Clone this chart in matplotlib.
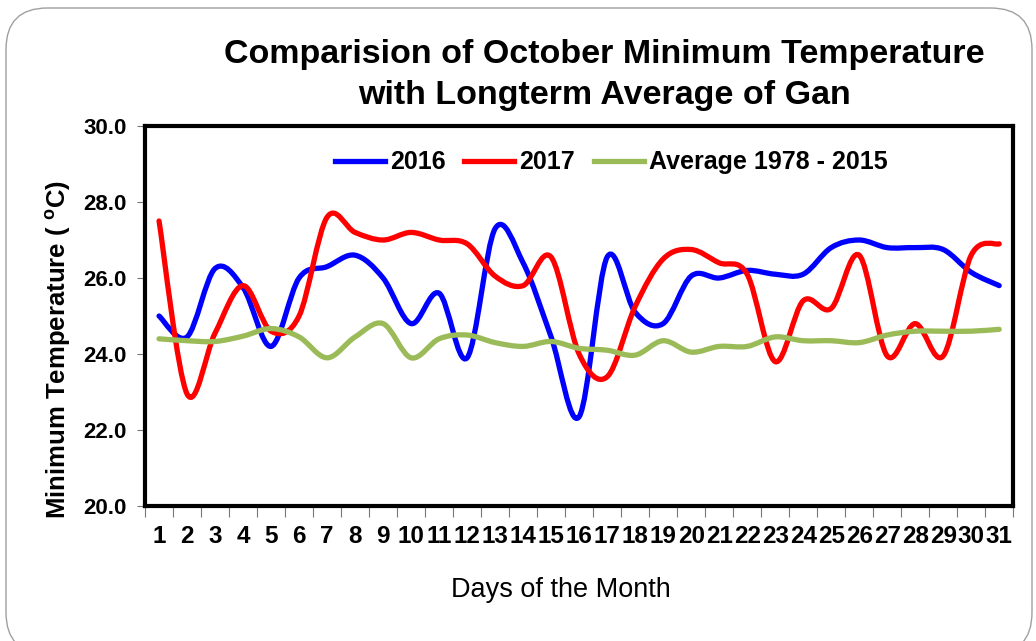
import numpy as np
import matplotlib
matplotlib.use('Agg')
import matplotlib.pyplot as plt
from matplotlib.path import Path
from matplotlib.patches import PathPatch, FancyBboxPatch
from matplotlib.lines import Line2D

plt.rcParams['font.family'] = ['Liberation Sans', 'DejaVu Sans']
plt.rcParams['mathtext.fontset'] = 'custom'
plt.rcParams['mathtext.rm'] = 'Liberation Sans'
plt.rcParams['mathtext.bf'] = 'Liberation Sans:bold'

# Data
days = list(range(1, 32))
t2016 = [25.0, 24.45, 26.25, 25.75, 24.2, 26.0, 26.3, 26.6, 26.0, 24.8,
         25.6, 23.9, 27.3, 26.4, 24.45, 22.35, 26.55, 25.1, 24.8, 26.05,
         26.0, 26.2, 26.1, 26.1, 26.8, 27.0, 26.8, 26.8, 26.75, 26.15, 25.8]
t2017 = [27.5, 22.95, 24.55, 25.8, 24.6, 25.0, 27.6, 27.2, 27.0, 27.2,
         27.0, 26.9, 26.05, 25.8, 26.55, 24.0, 23.4, 25.25, 26.5, 26.75,
         26.4, 26.1, 23.8, 25.4, 25.2, 26.6, 23.95, 24.8, 23.95, 26.6, 26.9]
avg = [24.4, 24.35, 24.33, 24.47, 24.67, 24.45, 23.9, 24.45, 24.8, 23.9,
       24.4, 24.5, 24.3, 24.2, 24.33, 24.15, 24.1, 23.97, 24.35, 24.05,
       24.2, 24.2, 24.45, 24.35, 24.35, 24.3, 24.5, 24.6, 24.6, 24.6, 24.65]
series_names = ['2016', '2017', 'Average 1978 - 2015']
series_colors = ['#0000FF', '#FF0000', '#9BBB59']


def smooth_path(x, y):
    # Excel style smoothed line: cubic Bezier through the points
    x = np.asarray(x, float)
    y = np.asarray(y, float)
    pts = np.column_stack([x, y])
    ext = np.vstack([pts[0], pts, pts[-1]])
    verts = [pts[0]]
    codes = [Path.MOVETO]
    for i in range(len(pts) - 1):
        p0, p1, p2, p3 = ext[i], ext[i + 1], ext[i + 2], ext[i + 3]
        c1 = p1 + (p2 - p0) / 6.0
        c2 = p2 - (p3 - p1) / 6.0
        verts += [c1, c2, p2]
        codes += [Path.CURVE4] * 3
    return Path(verts, codes)


fig = plt.figure(figsize=(10.36, 6.41), dpi=100)
ax = fig.add_axes([0.140, 0.2106, 0.838, 0.5928])

# rounded chart border
W, H = 1036, 641
fig.patches.append(FancyBboxPatch((6 / W, -0.02), 1026 / W, (641 - 8) / H + 0.02,
                                  boxstyle='round,pad=0,rounding_size=0.04',
                                  transform=fig.transFigure, fill=False,
                                  edgecolor='#A0A0A0', linewidth=1.0,
                                  mutation_aspect=W / H))

for vals, col in zip([t2016, t2017, avg], series_colors):
    ax.add_patch(PathPatch(smooth_path(days, vals), facecolor='none',
                           edgecolor=col, linewidth=3.8, capstyle='round',
                           joinstyle='round', zorder=3))

ax.set_xlim(0.5, 31.5)
ax.set_ylim(20, 30)
ax.set_yticks(np.arange(20, 31, 2))
ax.set_yticklabels([f'{v:.1f}' for v in np.arange(20, 31, 2)],
                   fontsize=16, fontweight='bold')
ax.set_xticks(days)
ax.set_xticklabels([str(d) for d in days], fontsize=17.5, fontweight='bold')
ax.set_xticks(np.arange(0.5, 32, 1), minor=True)
ax.tick_params(axis='x', which='major', length=0, pad=14)
ax.tick_params(axis='x', which='minor', length=8, width=0.8, color='#777777',
               direction='out')
ax.tick_params(axis='y', length=6, width=0.8, color='#777777', direction='out',
               pad=7)

for sp in ax.spines.values():
    sp.set_linewidth(3)
    sp.set_color('black')

fig.text(58 / W, 1 - 350 / H, r'Minimum Temperature ( $^{\mathbf{o}}$C)',
         rotation=90, ha='center', va='center', fontsize=18.5, fontweight='bold')
fig.text(561 / W, 1 - 590 / H, 'Days of the Month', ha='center', va='center',
         fontsize=19.5)

fig.text(604 / W, 1 - 75 / H,
         'Comparision of October Minimum Temperature\nwith Longterm Average of Gan',
         ha='center', va='center', fontsize=24.5, fontweight='bold',
         linespacing=1.38)

handles = [Line2D([], [], color=c, linewidth=3.8) for c in series_colors]
ax.legend(handles, series_names, loc='upper center', bbox_to_anchor=(0.537, 0.995),
          ncol=3, frameon=False, prop={'size': 18, 'weight': 'bold'},
          handlelength=2.0, handletextpad=0.2, columnspacing=0.75)

fig.savefig('out.png', dpi=100)
